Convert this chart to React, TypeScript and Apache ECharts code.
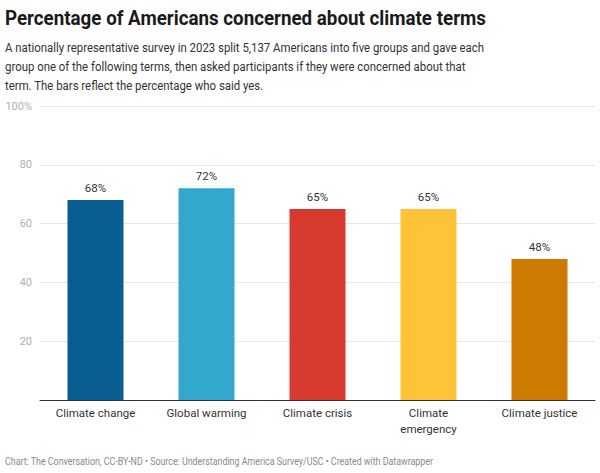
import React, { useEffect, useRef } from "react";
import * as echarts from "echarts";

const categories = ["Climate change", "Global warming", "Climate crisis", "Climate\nemergency", "Climate justice"];
const values = [68, 72, 65, 65, 48];
const barColors = ["#0a5d91", "#33a8cd", "#d73a2e", "#ffc33a", "#cc7a00"];
const yTicks = [0, 20, 40, 60, 80, 100];

const titleText = "Percentage of Americans concerned about climate terms";
const subtitleText =
  "A nationally representative survey in 2023 split 5,137 Americans into five groups and gave each\ngroup one of the following terms, then asked participants if they were concerned about that\nterm. The bars reflect the percentage who said yes.";
const footerText =
  "Chart: The Conversation, CC-BY-ND • Source: Understanding America Survey/USC • Created with Datawrapper";

export default function App() {
  const ref = useRef<HTMLDivElement>(null);
  useEffect(() => {
    if (!ref.current) return;
    const chart = echarts.init(ref.current, null, { renderer: "svg" });
    chart.setOption({
      animation: false,
      textStyle: { fontFamily: "Roboto" },
      graphic: [
        {
          type: "text",
          x: 5,
          y: 18.5,
          scaleX: 0.894,
          style: {
            text: titleText,
            fontFamily: "Roboto",
            fontWeight: "bold",
            fontSize: 21,
            fill: "#1a1a1a",
            textVerticalAlign: "middle",
          },
        },
        {
          type: "text",
          x: 5,
          y: 38.5,
          scaleX: 0.877,
          style: {
            text: subtitleText,
            fontFamily: "Roboto",
            fontSize: 13,
            lineHeight: 19,
            fill: "#333",
            textVerticalAlign: "top",
          },
        },
        {
          type: "text",
          x: 5,
          y: 461.5,
          scaleX: 0.806,
          style: {
            text: footerText,
            fontFamily: "Roboto",
            fontSize: 11,
            fill: "#8a8a8a",
            textVerticalAlign: "middle",
          },
        },
      ],
      grid: { left: 40, right: 5, top: 106, bottom: 73, containLabel: false },
      xAxis: {
        type: "category",
        data: categories,
        axisLine: { lineStyle: { color: "#333", width: 1 } },
        axisTick: { show: false },
        axisLabel: {
          color: "#333",
          fontFamily: "Roboto",
          fontSize: 11.5,
          margin: 5,
          lineHeight: 16,
          interval: 0,
        },
      },
      yAxis: {
        type: "value",
        min: 0,
        max: 100,
        interval: 20,
        axisLine: { show: false },
        axisTick: { show: false },
        splitLine: { lineStyle: { color: "#e6e6e6", width: 1 } },
        axisLabel: {
          color: "#b0b0b0",
          fontSize: 11,
          margin: 8,
          formatter: (v: number) => (v === 0 ? "" : v === yTicks[yTicks.length - 1] ? v + "%" : String(v)),
        },
      },
      series: [
        {
          type: "bar",
          data: values.map((v, i) => ({ value: v, itemStyle: { color: barColors[i] } })),
          barWidth: 56,
          label: {
            show: true,
            position: "top",
            distance: 6,
            color: "#333",
            fontSize: 11.5,
            formatter: (p: any) => p.value + "%",
          },
        },
      ],
    });
    return () => chart.dispose();
  }, []);
  return <div ref={ref} style={{ width: 600, height: 473, position: "absolute", left: 0, top: 0 }} />;
}
